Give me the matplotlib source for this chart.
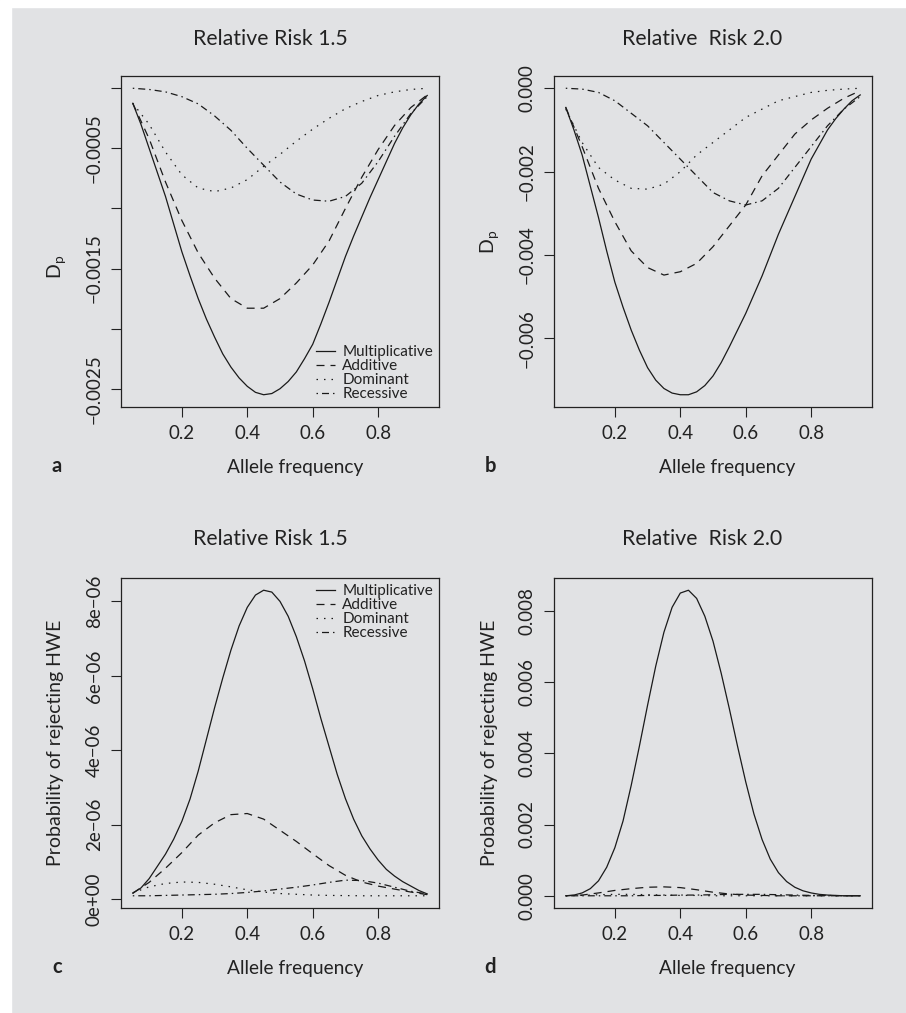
import matplotlib
matplotlib.use('Agg')
import matplotlib.pyplot as plt
from matplotlib.patches import Rectangle

plt.rcParams['font.family'] = ['Lato', 'DejaVu Sans']
plt.rcParams['axes.unicode_minus'] = True

# allele frequency grids
freq = [0.05, 0.10, 0.15, 0.20, 0.25, 0.30, 0.35, 0.40, 0.45, 0.50,
        0.55, 0.60, 0.65, 0.70, 0.75, 0.80, 0.85, 0.90, 0.95]
freq_fine = [0.050, 0.075, 0.100, 0.125, 0.150, 0.175, 0.200, 0.225, 0.250, 0.275,
             0.300, 0.325, 0.350, 0.375, 0.400, 0.425, 0.450, 0.475, 0.500, 0.525,
             0.550, 0.575, 0.600, 0.625, 0.650, 0.675, 0.700, 0.725, 0.750, 0.775,
             0.800, 0.825, 0.850, 0.875, 0.900, 0.925, 0.950]

# a: D_p, relative risk 1.5
a_mult = [-0.000125, -0.00030, -0.00050, -0.00070, -0.00090, -0.00113, -0.00136, -0.00156, -0.00175, -0.00192,
          -0.00207, -0.00221, -0.00232, -0.00241, -0.00248, -0.00253, -0.00255, -0.00254, -0.00250, -0.00244,
          -0.00236, -0.00225, -0.00213, -0.00196, -0.00178, -0.00159, -0.00140, -0.00123, -0.00107, -0.00091,
          -0.00076, -0.00061, -0.00046, -0.00033, -0.00022, -0.00013, -0.00006]
a_add = [-0.000125, -0.00042, -0.00078, -0.00110, -0.00137, -0.00158, -0.00175, -0.00183, -0.00183, -0.00175,
         -0.00162, -0.00147, -0.00127, -0.00100, -0.00074, -0.00051, -0.00031, -0.00016, -0.000055]
a_dom = [-0.000125, -0.00030, -0.00053, -0.00072, -0.00083, -0.00086, -0.00083, -0.00076, -0.00065, -0.00055,
         -0.00044, -0.00034, -0.00025, -0.00017, -0.00011, -0.00006, -0.00003, -0.00001, 0.0]
a_rec = [0.0, -0.00001, -0.00003, -0.00007, -0.00013, -0.00023, -0.00035, -0.00050, -0.00064, -0.00078,
         -0.00088, -0.00093, -0.00094, -0.00090, -0.00079, -0.00061, -0.00040, -0.00021, -0.00007]

# b: D_p, relative risk 2.0
b_mult = [-0.00046, -0.00100, -0.00160, -0.00235, -0.00310, -0.00390, -0.00465, -0.00525, -0.00580, -0.00628,
          -0.00670, -0.00700, -0.00720, -0.00731, -0.00735, -0.00735, -0.00728, -0.00713, -0.00690, -0.00658,
          -0.00620, -0.00580, -0.00540, -0.00495, -0.00450, -0.00400, -0.00350, -0.00305, -0.00260, -0.00215,
          -0.00170, -0.00135, -0.00100, -0.00073, -0.00050, -0.00030, -0.00016]
b_add = [-0.00046, -0.0014, -0.0024, -0.0032, -0.0039, -0.0043, -0.00448, -0.0044, -0.0042, -0.0038,
         -0.0033, -0.0028, -0.0021, -0.0016, -0.0011, -0.00076, -0.00048, -0.00024, -0.00006]
b_dom = [-0.0005, -0.0013, -0.0019, -0.0022, -0.0024, -0.00242, -0.0023, -0.0020, -0.0016, -0.0013,
         -0.0010, -0.0007, -0.0005, -0.0003, -0.0002, -0.0001, -0.00005, -0.00002, 0.0]
b_rec = [0.0, -0.00002, -0.0001, -0.0003, -0.0006, -0.0009, -0.0013, -0.0017, -0.0021, -0.0025,
         -0.0027, -0.0028, -0.0027, -0.0024, -0.0019, -0.0014, -0.0009, -0.0005, -0.0002]

# c: probability of rejecting HWE (units of 1e-6), relative risk 1.5
c_mult = [0.16, 0.30, 0.55, 0.88, 1.21, 1.61, 2.09, 2.69, 3.44, 4.29,
          5.14, 5.94, 6.69, 7.34, 7.84, 8.17, 8.30, 8.25, 8.00, 7.60,
          7.05, 6.40, 5.65, 4.85, 4.10, 3.35, 2.70, 2.15, 1.70, 1.35,
          1.05, 0.80, 0.62, 0.47, 0.35, 0.23, 0.14]
c_add = [0.16, 0.45, 0.83, 1.25, 1.72, 2.05, 2.27, 2.30, 2.15, 1.85,
         1.55, 1.22, 0.90, 0.64, 0.46, 0.35, 0.27, 0.19, 0.12]
c_dom = [0.17, 0.33, 0.42, 0.46, 0.45, 0.40, 0.33, 0.25, 0.19, 0.15,
         0.13, 0.11, 0.10, 0.095, 0.09, 0.09, 0.09, 0.09, 0.09]
c_rec = [0.09, 0.09, 0.10, 0.11, 0.12, 0.13, 0.15, 0.18, 0.22, 0.27,
         0.32, 0.38, 0.45, 0.51, 0.50, 0.43, 0.32, 0.21, 0.14]

# d: probability of rejecting HWE, relative risk 2.0
d_mult = [0.0, 0.00002, 0.00008, 0.00020, 0.00042, 0.00080, 0.00135, 0.00210, 0.00310, 0.00420,
          0.00535, 0.00645, 0.00740, 0.00810, 0.00850, 0.00858, 0.00835, 0.00785, 0.00715, 0.00625,
          0.00525, 0.00420, 0.00320, 0.00230, 0.00158, 0.00103, 0.00065, 0.00040, 0.00024, 0.00014,
          0.00008, 0.00004, 0.00002, 0.00001, 0.0, 0.0, 0.0]
d_add = [0.0, 0.00002, 0.00008, 0.00015, 0.0002, 0.00024, 0.00025, 0.00023, 0.00017, 0.0001,
         0.00005, 0.00002, 0.00001, 0.0, 0.0, 0.0, 0.0, 0.0, 0.0]
d_dom = [0.0, 0.00001, 0.00003, 0.00004, 0.00004, 0.00003, 0.00002, 0.00001, 0.00001, 0.0,
         0.0, 0.0, 0.0, 0.0, 0.0, 0.0, 0.0, 0.0, 0.0]
d_rec = [0.0, 0.0, 0.0, 0.0, 0.0, 0.00001, 0.00001, 0.00002, 0.00002, 0.00003,
         0.00004, 0.00004, 0.00004, 0.00003, 0.00002, 0.00001, 0.00001, 0.0, 0.0]

models = ['Multiplicative', 'Additive', 'Dominant', 'Recessive']
styles = ['-', (0, (6.4, 4.8)), (0, (1.2, 4.8)), (0, (1.2, 3.2, 5.6, 3.2))]

xticks = [0.2, 0.4, 0.6, 0.8]
a_yticks = [0, -0.0005, -0.001, -0.0015, -0.002, -0.0025]
a_ylabels = ['', '−0.0005', '', '−0.0015', '', '−0.0025']
b_yticks = [0, -0.002, -0.004, -0.006]
b_ylabels = ['0.000', '−0.002', '−0.004', '−0.006']
c_yticks = [0, 2, 4, 6, 8]
c_ylabels = ['0e+00', '2e−06', '4e−06', '6e−06', '8e−06']
d_yticks = [0, 0.002, 0.004, 0.006, 0.008]
d_ylabels = ['0.000', '0.002', '0.004', '0.006', '0.008']

W, H = 906, 1013
bg = '#e1e2e4'
ink = '#222222'
fig = plt.figure(figsize=(W / 100, H / 100), dpi=100)
fig.patch.set_facecolor(bg)
# white strips at the top and left edge
fig.patches.append(Rectangle((0, 1 - 7 / H), 1, 7 / H, transform=fig.transFigure, color='white', zorder=0))
fig.patches.append(Rectangle((0, 0), 11 / W, 1, transform=fig.transFigure, color='white', zorder=0))


def px_axes(left, top, right, bottom):
    return fig.add_axes([left / W, 1 - bottom / H, (right - left) / W, (bottom - top) / H])


panels = [
    (px_axes(121, 76, 439, 407), [(freq_fine, a_mult), (freq, a_add), (freq, a_dom), (freq, a_rec)],
     a_yticks, a_ylabels),
    (px_axes(554, 76, 872, 407), [(freq_fine, b_mult), (freq, b_add), (freq, b_dom), (freq, b_rec)],
     b_yticks, b_ylabels),
    (px_axes(121, 578, 439, 908), [(freq_fine, c_mult), (freq, c_add), (freq, c_dom), (freq, c_rec)],
     c_yticks, c_ylabels),
    (px_axes(554, 578, 872, 908), [(freq_fine, d_mult), (freq, d_add), (freq, d_dom), (freq, d_rec)],
     d_yticks, d_ylabels),
]

for ax, series, yt, yl in panels:
    ax.set_facecolor(bg)
    for (xs, vals), ls, name in zip(series, styles, models):
        ax.plot(xs, vals, color='#1a1a1a', lw=0.9, linestyle=ls, label=name)
    ax.margins(0.04)
    ax.set_xticks(xticks)
    ax.set_xticklabels(['0.2', '0.4', '0.6', '0.8'])
    ax.set_yticks(yt)
    ax.set_yticklabels(yl, rotation=90, va='center')
    ax.tick_params(direction='out', length=7, width=0.8, color=ink,
                   labelsize=13.5, labelcolor=ink, pad=6)
    for s in ax.spines.values():
        s.set_linewidth(0.9)
        s.set_color(ink)

leg_kw = dict(frameon=False, fontsize=11, handlelength=1.2, handletextpad=0.5,
              labelspacing=0.0, labelcolor=ink, borderpad=0.2, borderaxespad=0.2)
panels[0][0].legend(loc='lower right', bbox_to_anchor=(1.0, 0.0), **leg_kw)
panels[2][0].legend(loc='upper right', bbox_to_anchor=(1.0, 1.0), **leg_kw)

txt = dict(color=ink, ha='center')
# titles
for x, y, s in [(270, 45, 'Relative Risk 1.5'), (702, 45, 'Relative  Risk 2.0'),
                (270, 545, 'Relative Risk 1.5'), (702, 545, 'Relative  Risk 2.0')]:
    fig.text(x / W, 1 - y / H, s, fontsize=15.3, va='baseline', **txt)
# x labels
for x, y in [(295, 473), (727, 473), (295, 974), (727, 974)]:
    fig.text(x / W, 1 - y / H, 'Allele frequency', fontsize=13.8, va='baseline', **txt)
# y labels
fig.text(57 / W, 1 - 267 / H, r'$\mathregular{D_p}$', fontsize=14, rotation=90, va='center', **txt)
fig.text(490 / W, 1 - 242 / H, r'$\mathregular{D_p}$', fontsize=14, rotation=90, va='center', **txt)
fig.text(56 / W, 1 - 743 / H, 'Probability of rejecting HWE', fontsize=14, rotation=90, va='center', **txt)
fig.text(490 / W, 1 - 743 / H, 'Probability of rejecting HWE', fontsize=14, rotation=90, va='center', **txt)
# panel letters
for x, y, s in [(57, 472, 'a'), (490, 472, 'b'), (57, 973, 'c'), (490, 973, 'd')]:
    fig.text(x / W, 1 - y / H, s, fontsize=14.5, fontweight='bold', va='baseline', **txt)

fig.savefig('out.png', dpi=100, facecolor=fig.get_facecolor())
